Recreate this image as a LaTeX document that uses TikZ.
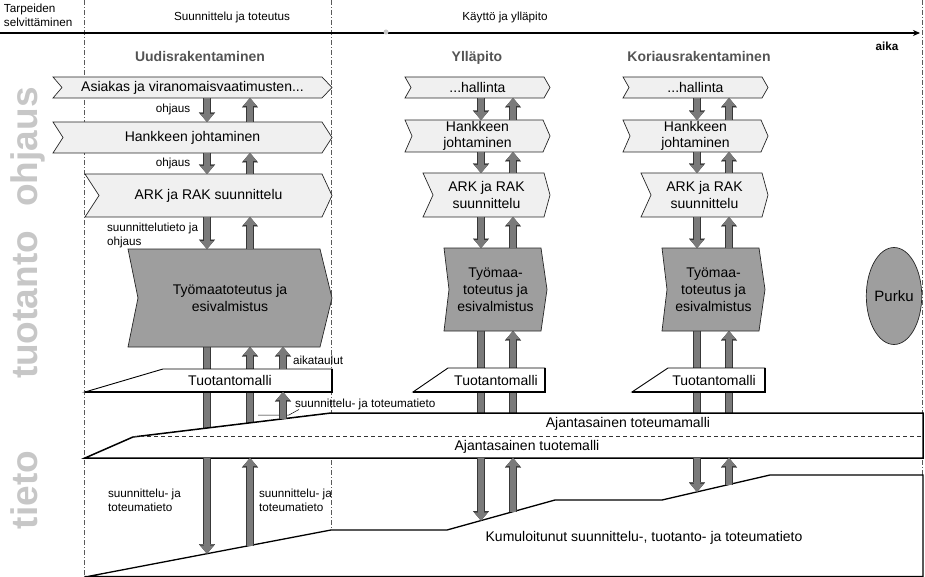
\documentclass[tikz,border=0pt]{standalone}
\usepackage{fontspec}
\setmainfont{Liberation Sans}
\usetikzlibrary{arrows.meta,shapes.geometric}
\pgfdeclarelayer{back}
\pgfdeclarelayer{mid}
\pgfsetlayers{back,mid,main}
\definecolor{lightbox}{gray}{0.94}
\definecolor{darkbox}{gray}{0.62}
\definecolor{arrowfill}{gray}{0.48}
\definecolor{arrowedge}{gray}{0.22}
\definecolor{biglabel}{gray}{0.78}
\definecolor{titlegray}{gray}{0.33}
\newcommand\myBig{\fontsize{14}{16.5}\selectfont}
\newcommand\myTall{\fontsize{14}{17}\selectfont}
\newcommand\mySmall{\fontsize{11.7}{14}\selectfont}
\newcommand\myHuge{\fontsize{37}{37}\selectfont\bfseries}
\newcommand\chevron[4]{%
  \begin{pgfonlayer}{mid}
    \filldraw[#2] (#1.north west) -- ([xshift=-#4pt]#1.north east) -- (#1.east)
      -- ([xshift=-#4pt]#1.south east) -- (#1.south west) -- ([xshift=#3pt]#1.west) -- cycle;
  \end{pgfonlayer}}
\tikzset{
  every node/.style={inner sep=0pt, outer sep=0pt},
  txt/.style={font=\myBig, align=center},
  ttxt/.style={font=\myTall, align=center},
  lbl/.style={font=\mySmall, align=left},
  ttl/.style={font=\myBig\bfseries, text=titlegray, anchor=base},
  big/.style={font=\myHuge, text=biglabel, rotate=90, anchor=base},
  light/.style={draw=black!85, line width=0.7pt, fill=lightbox},
  dark/.style={draw=black!85, line width=0.7pt, fill=darkbox},
  model/.style={draw=black, line width=0.9pt, fill=white},
  modeledge/.style={draw=black, line width=2pt},
  sep/.style={draw=black!65, line width=0.6pt, dash pattern=on 5pt off 2pt on 1pt off 2pt},
  flow/.style={draw=arrowfill, line width=6pt, -{Triangle[width=13pt,length=8pt,line width=0.1pt]},
    preaction={draw=arrowedge, line width=8pt, -{Triangle[width=16pt,length=9.5pt,line width=0.1pt]}}},
  bar/.style={draw=arrowfill, line width=6pt, preaction={draw=arrowedge, line width=8pt}},
  leader/.style={draw=black, line width=0.5pt},
}
\begin{document}
\begin{tikzpicture}[x=1pt,y=-1pt]
\useasboundingbox (0,0) rectangle (925,577);

% separators
\coordinate (sA1) at (84,0); \coordinate (sA2) at (84,577);
\coordinate (sB1) at (331,0); \coordinate (sB2) at (331,530);
\coordinate (sC1) at (922,0); \coordinate (sC2) at (922,577);
\begin{pgfonlayer}{back}
\draw[sep] (sA1) -- (sA2);
\draw[sep] (sB1) -- (sB2);
\draw[sep] (sC1) -- (sC2);
\end{pgfonlayer}

% time axis
\coordinate (ax0) at (0,33); \coordinate (ax1) at (920,33);
\draw[line width=2.2pt, -{Stealth[length=7pt,width=6pt]}] (ax0) -- (ax1);
\node[circle, fill=gray!45, minimum size=5pt] (dot) at (386,32) {};

% header
\node[lbl, anchor=west] (phase0) at (4,15) {Tarpeiden\\selvittäminen};
\node[lbl] (phase1) at (232,17) {Suunnittelu ja toteutus};
\node[lbl] (phase2) at (505,17) {Käyttö ja ylläpito};
\node[lbl, font=\mySmall\bfseries] (aika) at (887,46) {aika};

% big side labels
\node[big] (Lohj) at (37,147) {ohjaus};
\node[big] (Ltuo) at (37,305) {tuotanto};
\node[big] (Ltie) at (37,490) {tieto};

% column titles
\node[ttl] (c1) at (200,62) {Uudisrakentaminen};
\node[ttl] (c2) at (477,62) {Ylläpito};
\node[ttl] (c3) at (699,62) {Koriausrakentaminen};

% column 1
\node[txt, minimum width=279pt, minimum height=21pt] (a1) at (192.5,87.5) {Asiakas ja viranomaisvaatimusten...};
\chevron{a1}{light}{9}{10}
\node[txt, minimum width=279pt, minimum height=31pt] (h1) at (192.5,137.5) {Hankkeen johtaminen};
\chevron{h1}{light}{10}{10}
\node[txt, minimum width=247pt, minimum height=43pt] (r1) at (208.5,195.5) {ARK ja RAK suunnittelu};
\chevron{r1}{light}{14}{10}
\node[ttxt, minimum width=204pt, minimum height=98pt] (t1) at (230,298) {Työmaatoteutus ja\\esivalmistus};
\chevron{t1}{dark}{10}{12}

% column 2
\node[txt, minimum width=145pt, minimum height=21pt] (a2) at (477.5,87.5) {...hallinta};
\chevron{a2}{light}{6}{6}
\node[txt, minimum width=145pt, minimum height=32pt] (h2) at (477.5,136) {Hankkeen\\johtaminen};
\chevron{h2}{light}{7}{7}
\node[txt, minimum width=127pt, minimum height=44pt] (r2) at (486.5,195) {ARK ja RAK\\suunnittelu};
\chevron{r2}{light}{10}{6}
\node[ttxt, minimum width=103pt, minimum height=83pt] (t2) at (495.5,289.5) {Työmaa-\\toteutus ja\\esivalmistus};
\chevron{t2}{dark}{5}{6}

% column 3
\node[txt, minimum width=145pt, minimum height=21pt] (a3) at (695.5,87.5) {...hallinta};
\chevron{a3}{light}{6}{6}
\node[txt, minimum width=145pt, minimum height=32pt] (h3) at (695.5,136) {Hankkeen\\johtaminen};
\chevron{h3}{light}{7}{7}
\node[txt, minimum width=127pt, minimum height=44pt] (r3) at (704.5,195) {ARK ja RAK\\suunnittelu};
\chevron{r3}{light}{10}{6}
\node[ttxt, minimum width=103pt, minimum height=83pt] (t3) at (713.5,289.5) {Työmaa-\\toteutus ja\\esivalmistus};
\chevron{t3}{dark}{5}{6}

% Purku
\node[ellipse, draw=black!85, line width=0.7pt, fill=darkbox, minimum width=51pt, minimum height=97pt,
      font=\fontsize{15}{17}\selectfont] (purku) at (894,296) {Purku};

% production models
\node[txt, minimum width=130pt, minimum height=23pt] (tm1) at (230,380.5) {Tuotantomalli};
\node[txt, minimum width=90pt, minimum height=24pt] (tm2) at (496,380) {Tuotantomalli};
\node[txt, minimum width=90pt, minimum height=24pt] (tm3) at (714,380) {Tuotantomalli};
\begin{pgfonlayer}{mid}
\filldraw[model] (85,392) -- (163,369) -- (332,369) -- (332,392) -- cycle;
\draw[modeledge] (85,392) -- (332,392) -- (332,369);
\filldraw[model] (413,392) -- (448,368) -- (545,368) -- (545,392) -- cycle;
\draw[modeledge] (413,392) -- (545,392) -- (545,368);
\filldraw[model] (632,392) -- (668,368) -- (765,368) -- (765,392) -- cycle;
\draw[modeledge] (632,392) -- (765,392) -- (765,368);
% information band
\filldraw[fill=white, draw=black, line width=1.5pt] (85,458) -- (133,437) -- (331,413) -- (923,413) -- (923,458) -- cycle;
\draw[black!80, line width=0.7pt, dash pattern=on 4pt off 3pt] (133,436.5) -- (922,436.5);
\filldraw[fill=white, draw=black, line width=1.3pt] (85,577) -- (331,530) -- (447,530) -- (555,500) -- (662,500)
  -- (770,475) -- (923,475) -- (923,576.5) -- (85,576.5) -- cycle;
\end{pgfonlayer}

\node[txt] (toteuma) at (628,424) {Ajantasainen toteumamalli};
\node[txt] (tuote) at (527,447) {Ajantasainen tuotemalli};
\node[txt] (kum) at (644,538) {Kumuloitunut suunnittelu-, tuotanto- ja toteumatieto};

% small labels
\node[lbl] (o1) at (173,109) {ohjaus};
\node[lbl] (o2) at (173,163) {ohjaus};
\node[lbl, anchor=west] (st1) at (107,235) {suunnittelutieto ja\\ohjaus};
\node[lbl, anchor=west] (aik) at (293,360) {aikataulut};
\node[lbl, anchor=west] (stt) at (295,404) {suunnittelu- ja toteumatieto};
\node[lbl, anchor=west] (sj1) at (108,500) {suunnittelu- ja\\toteumatieto};
\node[lbl, anchor=west] (sj2) at (259,500) {suunnittelu- ja\\toteumatieto};
\coordinate (ld1) at (258,415); \coordinate (ld2) at (289,415);
\draw[leader] (ld1) -- (ld2) -- ([xshift=4pt]stt.south west);

% arrow columns and free ends
\coordinate (x1d) at (207,0); \coordinate (x1u) at (250,0); \coordinate (x1a) at (283,0);
\coordinate (x2d) at (481,0); \coordinate (x2u) at (513,0);
\coordinate (x3d) at (697,0); \coordinate (x3u) at (729,0);
\coordinate (bt1d) at (207,428); \coordinate (bt1u) at (250,422.8); \coordinate (bt1a) at (283,418.8);
\coordinate (bt2d) at (481,413); \coordinate (bt2u) at (513,413);
\coordinate (bt3d) at (697,413); \coordinate (bt3u) at (729,413);
\coordinate (bb1d) at (207,458); \coordinate (bb1u) at (250,458);
\coordinate (bb2d) at (481,458); \coordinate (bb2u) at (513,458);
\coordinate (bb3d) at (697,458); \coordinate (bb3u) at (729,458);
\coordinate (bl1d) at (207,553.7); \coordinate (bl1u) at (250,545.5);
\coordinate (bl2d) at (481,520.6); \coordinate (bl2u) at (513,511.7);
\coordinate (bl3d) at (697,491.9); \coordinate (bl3u) at (729,484.5);

% column 1 arrows
\draw[flow] (a1.south -| x1d) -- (h1.north -| x1d);
\draw[flow] (h1.north -| x1u) -- (a1.south -| x1u);
\draw[flow] (h1.south -| x1d) -- (r1.north -| x1d);
\draw[flow] (r1.north -| x1u) -- (h1.south -| x1u);
\draw[flow] (r1.south -| x1d) -- (t1.north -| x1d);
\draw[flow] (t1.north -| x1u) -- (r1.south -| x1u);
\begin{pgfonlayer}{back}
\draw[bar] (t1.south -| x1d) -- (bt1d);
\draw[flow] (bt1u) -- (t1.south -| x1u);
\end{pgfonlayer}
\draw[flow] (tm1.north -| x1a) -- (t1.south -| x1a);
\draw[flow] (bt1a) -- (tm1.south -| x1a);
\draw[flow] (bb1d) -- (bl1d);
\draw[flow] (bl1u) -- (bb1u);

% column 2 arrows
\draw[flow] (a2.south -| x2d) -- (h2.north -| x2d);
\draw[flow] (h2.north -| x2u) -- (a2.south -| x2u);
\draw[flow] (h2.south -| x2d) -- (r2.north -| x2d);
\draw[flow] (r2.north -| x2u) -- (h2.south -| x2u);
\draw[flow] (r2.south -| x2d) -- (t2.north -| x2d);
\draw[flow] (t2.north -| x2u) -- (r2.south -| x2u);
\begin{pgfonlayer}{back}
\draw[bar] (t2.south -| x2d) -- (bt2d);
\draw[flow] (bt2u) -- (t2.south -| x2u);
\end{pgfonlayer}
\draw[flow] (bb2d) -- (bl2d);
\draw[flow] (bl2u) -- (bb2u);

% column 3 arrows
\draw[flow] (a3.south -| x3d) -- (h3.north -| x3d);
\draw[flow] (h3.north -| x3u) -- (a3.south -| x3u);
\draw[flow] (h3.south -| x3d) -- (r3.north -| x3d);
\draw[flow] (r3.north -| x3u) -- (h3.south -| x3u);
\draw[flow] (r3.south -| x3d) -- (t3.north -| x3d);
\draw[flow] (t3.north -| x3u) -- (r3.south -| x3u);
\begin{pgfonlayer}{back}
\draw[bar] (t3.south -| x3d) -- (bt3d);
\draw[flow] (bt3u) -- (t3.south -| x3u);
\end{pgfonlayer}
\draw[flow] (bb3d) -- (bl3d);
\draw[flow] (bl3u) -- (bb3u);
\end{tikzpicture}
\end{document}
